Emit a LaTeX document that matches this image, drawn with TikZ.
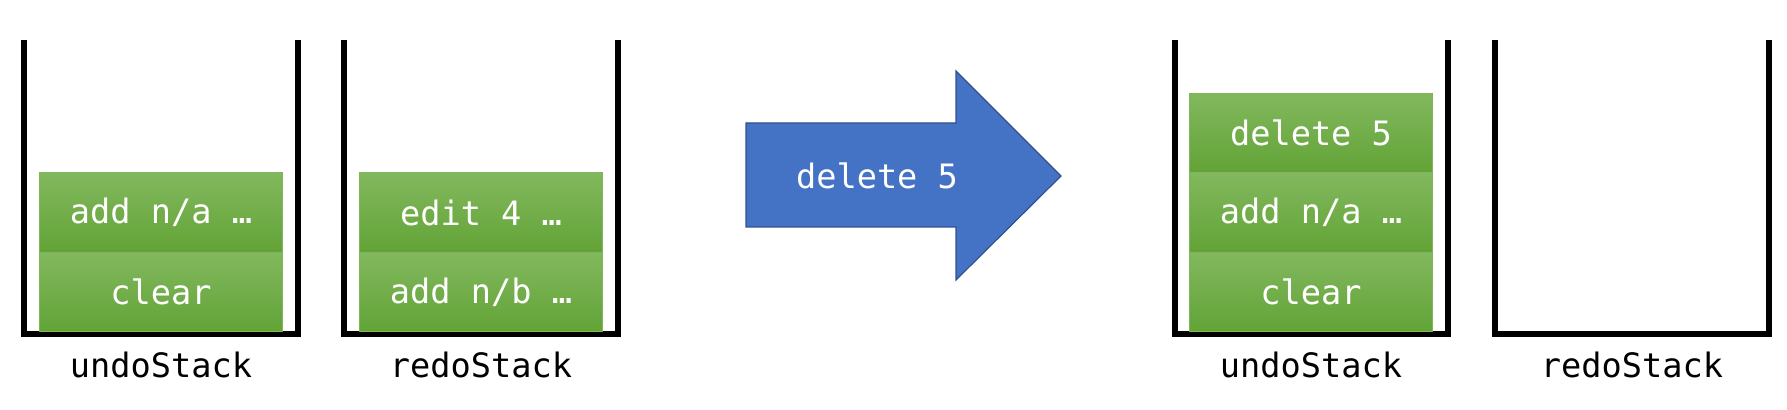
\documentclass[tikz,border=0pt]{standalone}
\usepackage{fontspec}
\setmonofont{DejaVu Sans Mono}
\usetikzlibrary{positioning}
\definecolor{itemtop}{HTML}{82B85E}
\definecolor{itembot}{HTML}{62A336}
\definecolor{itemline}{HTML}{7DB557}
\definecolor{arrowfill}{HTML}{4472C4}
\definecolor{arrowline}{HTML}{2F528F}
\begin{document}
\begin{tikzpicture}[x=0.5pt,y=-0.5pt,line join=miter,font=\ttfamily\fontsize{16.8}{20}\selectfont,
	cup/.style={line width=3pt},
	item/.style={draw=itemline,line width=0.5pt,top color=itemtop,bottom color=itembot,text=white,
		minimum width=121.5pt,minimum height=39.75pt,inner sep=0pt,outer sep=0pt,anchor=south}]
	\useasboundingbox (0,0) rectangle (1787,410);
	% stacks before
	\draw[cup] (24,40)--(24,334.5)--(298,334.5)--(298,40);
	\draw[cup] (344,40)--(344,334.5)--(618,334.5)--(618,40);
	\node[item] (u1a) at (161,332) {clear};
	\node[item,above=0pt of u1a] (u1b) {add n/a …};
	\node[item] (r1a) at (481,332) {add n/b …};
	\node[item,above=0pt of r1a] (r1b) {edit 4 …};
	\node (u1) at (161,365) {undoStack};
	\node (r1) at (481,365) {redoStack};
	% arrow
	\filldraw[fill=arrowfill,draw=arrowline,line width=0.6pt]
		(746,123)--(956,123)--(956,71)--(1061,176)--(956,280)--(956,227)--(746,227)--cycle;
	\node[text=white] (op) at (877,176) {delete 5};
	% stacks after
	\draw[cup] (1175,40)--(1175,334.5)--(1448,334.5)--(1448,40);
	\draw[cup] (1495,40)--(1495,334.5)--(1769,334.5)--(1769,40);
	\node[item] (u2a) at (1311,332) {clear};
	\node[item,above=0pt of u2a] (u2b) {add n/a …};
	\node[item,above=0pt of u2b] (u2c) {delete 5};
	\node (u2) at (1311,365) {undoStack};
	\node (r2) at (1632,365) {redoStack};
\end{tikzpicture}
\end{document}
